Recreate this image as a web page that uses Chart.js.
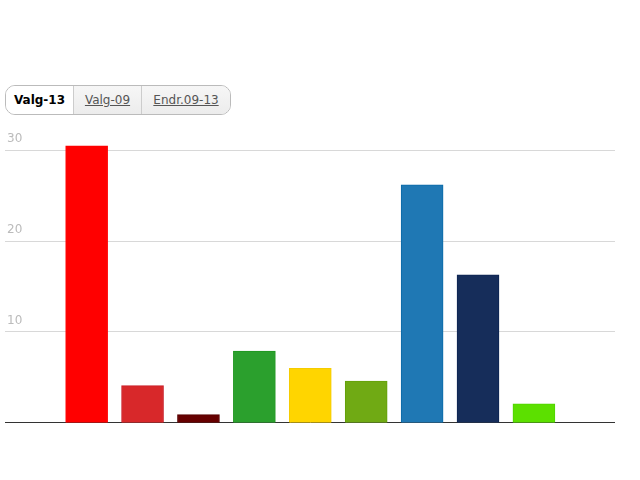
<!DOCTYPE html>
<html>
<head>
<meta charset="utf-8">
<script src="https://cdn.jsdelivr.net/npm/chart.js@4"></script>
<style>
    body { margin: 0; background: #fff; font-family: 'DejaVu Sans', sans-serif; }
    .tabs {
        position: absolute; left: 5px; top: 85px; height: 28px;
        display: flex; border: 1px solid #bbb; border-radius: 10px; overflow: hidden;
    }
    .tab {
        font-size: 12px; line-height: 28px; text-align: center; color: #555;
        text-decoration: underline; background: linear-gradient(#f6f6f6, #ececec);
        border-left: 1px solid #ccc; box-sizing: border-box;
    }
    .tab.active { background: #fff; color: #000; font-weight: bold; text-decoration: none; border-left: none; }
    .chart-box { position: absolute; left: 1px; top: 122px; width: 614px; height: 310px; }
</style>
</head>
<body>
<div class="tabs">
    <div class="tab active" style="width:67px">Valg-13</div>
    <div class="tab" style="width:68px">Valg-09</div>
    <div class="tab" style="width:89px">Endr.09-13</div>
</div>
<div class="chart-box"><canvas id="resultChart"></canvas></div>
<script>
// Election result per party (percent)
const parties = ['Ap', 'SV', 'Rødt', 'Sp', 'KrF', 'V', 'H', 'FrP', 'MDG'];
const shares = [30.5, 4.1, 0.9, 7.9, 6.0, 4.6, 26.2, 16.3, 2.1];
const fillColors = ['#ff0000', '#d8282a', '#660000', '#2ba02d', '#ffd500', '#70aa14', '#1f78b4', '#162d5a', '#5ce000'];
const edgeColors = ['#ff0000', '#c81e28', '#550000', '#1f961f', '#f5cc00', '#64a00a', '#0a6aa8', '#0c2452', '#50d400'];
const yTicks = [10, 20, 30];

const resultCtx = document.getElementById('resultChart').getContext('2d');
const resultChart = new Chart(resultCtx, {
    type: 'bar',
    data: {
        datasets: [{
            label: 'Valg-13',
            data: shares.map((v, i) => ({ x: i, y: v, party: parties[i] })),
            backgroundColor: fillColors,
            borderColor: edgeColors,
            borderWidth: 1,
            barThickness: 42
        }]
    },
    options: {
        responsive: true,
        maintainAspectRatio: false,
        animation: false,
        layout: { padding: 0 },
        plugins: {
            legend: { display: false },
            tooltip: { enabled: false }
        },
        scales: {
            x: {
                type: 'linear',
                offset: false,
                min: -1.46,
                max: parties.length - 1 + 1.45,
                ticks: { display: false },
                grid: { display: false, drawTicks: false },
                border: { display: true, color: '#333', width: 1 }
            },
            y: {
                min: 0,
                max: 32.1,
                afterBuildTicks: function(scale) {
                    scale.ticks = yTicks.map(v => ({ value: v }));
                },
                ticks: {
                    mirror: true,
                    padding: 2,
                    labelOffset: -11,
                    color: '#bbb',
                    font: { size: 12, family: 'DejaVu Sans' }
                },
                grid: { color: '#d8d8d8', drawTicks: false },
                border: { display: false }
            }
        }
    }
});
</script>
</body>
</html>
